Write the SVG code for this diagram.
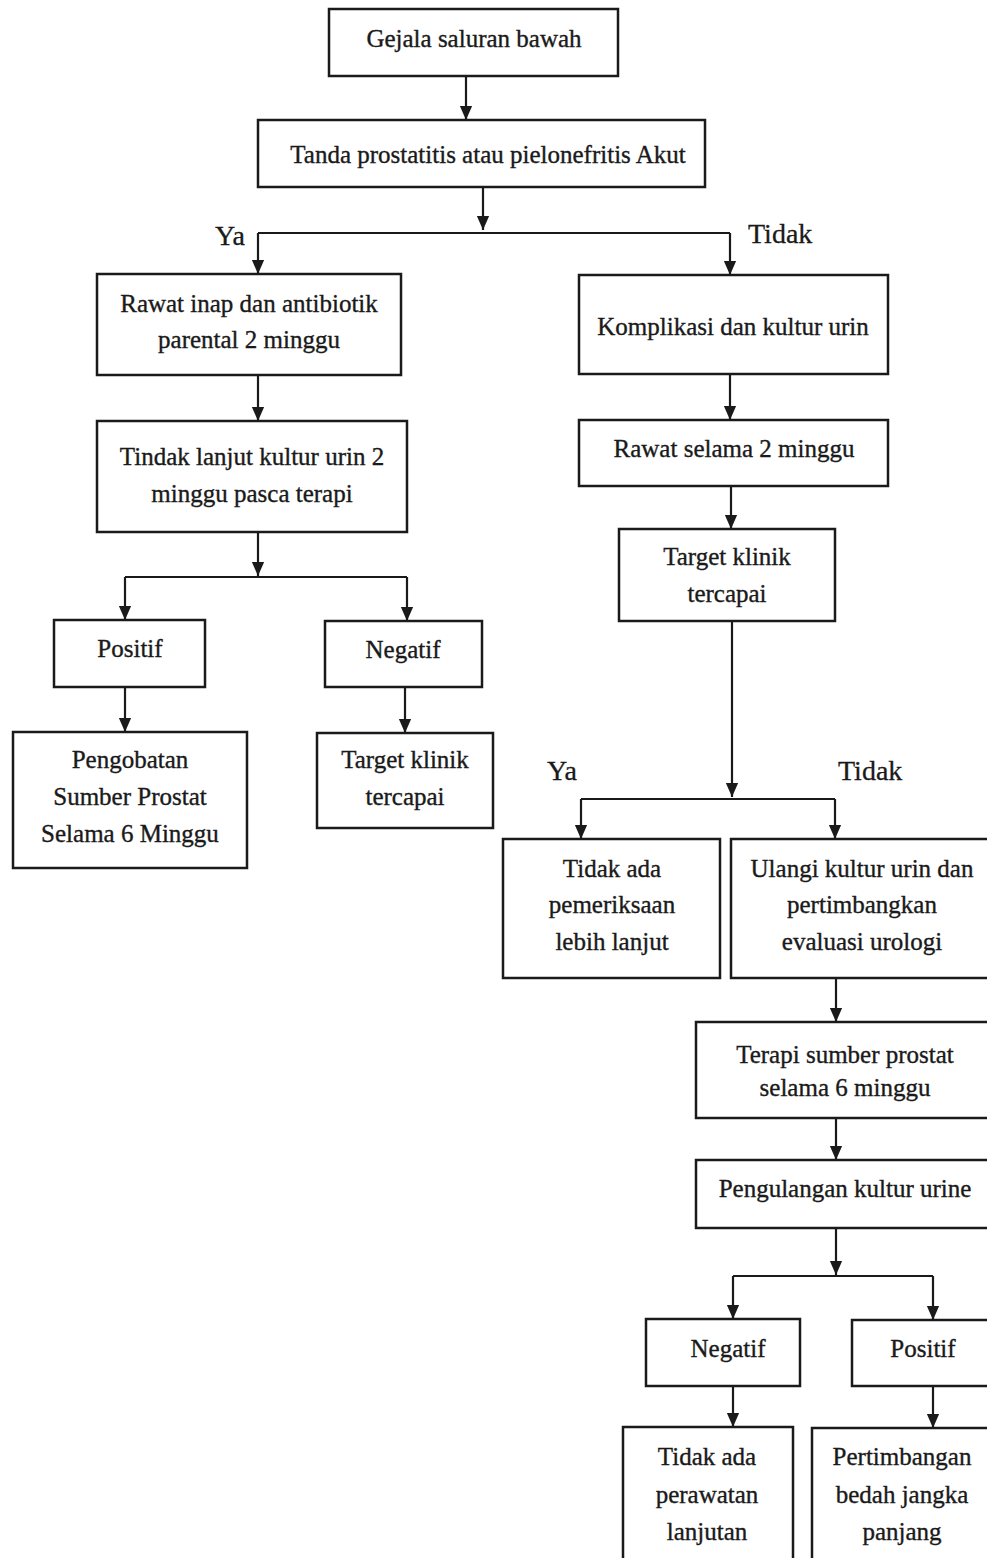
<svg xmlns="http://www.w3.org/2000/svg" width="987" height="1558" viewBox="0 0 987 1558">
<style>
.box{fill:#fff;stroke:#1a1a1a;stroke-width:2.5}
.t{font-family:"Liberation Serif","Times New Roman",serif;font-size:25px;fill:#1a1a1a;stroke:#1a1a1a;stroke-width:0.35;text-anchor:middle}
.lbl{font-family:"Liberation Serif","Times New Roman",serif;font-size:28px;fill:#1a1a1a;stroke:#1a1a1a;stroke-width:0.3}
.c{fill:none;stroke:#1a1a1a;stroke-width:2.2}
</style>
<defs>
<marker id="ah2" markerUnits="userSpaceOnUse" markerWidth="14" markerHeight="16" viewBox="0 0 16 14" refX="16" refY="7" orient="auto">
<path d="M0,0 L16,7 L0,14 Z" fill="#1a1a1a"/>
</marker>
</defs>
<rect width="987" height="1558" fill="#fff"/>
<g id="connectors">
<path class="c" marker-end="url(#ah2)" d="M466,76 V120"/>
<path class="c" marker-end="url(#ah2)" d="M483,187 V230"/>
<path class="c" d="M258,233 H730"/>
<path class="c" marker-end="url(#ah2)" d="M258,233 V274"/>
<path class="c" marker-end="url(#ah2)" d="M730,233 V275"/>
<path class="c" marker-end="url(#ah2)" d="M258,375 V421"/>
<path class="c" marker-end="url(#ah2)" d="M258,532 V576"/>
<path class="c" d="M125,577 H407"/>
<path class="c" marker-end="url(#ah2)" d="M125,577 V620"/>
<path class="c" marker-end="url(#ah2)" d="M407,577 V621"/>
<path class="c" marker-end="url(#ah2)" d="M125,687 V732"/>
<path class="c" marker-end="url(#ah2)" d="M405,687 V733"/>
<path class="c" marker-end="url(#ah2)" d="M730,374 V420"/>
<path class="c" marker-end="url(#ah2)" d="M731,486 V529"/>
<path class="c" marker-end="url(#ah2)" d="M732,621 V797"/>
<path class="c" d="M581,799 H835"/>
<path class="c" marker-end="url(#ah2)" d="M581,799 V839"/>
<path class="c" marker-end="url(#ah2)" d="M835,799 V839"/>
<path class="c" marker-end="url(#ah2)" d="M836,978 V1022"/>
<path class="c" marker-end="url(#ah2)" d="M836,1118 V1160"/>
<path class="c" marker-end="url(#ah2)" d="M836,1228 V1275"/>
<path class="c" d="M733,1276 H933"/>
<path class="c" marker-end="url(#ah2)" d="M733,1276 V1319"/>
<path class="c" marker-end="url(#ah2)" d="M933,1276 V1320"/>
<path class="c" marker-end="url(#ah2)" d="M733,1386 V1427"/>
<path class="c" marker-end="url(#ah2)" d="M933,1386 V1428"/>
<text class="lbl" x="215" y="245">Ya</text>
<text class="lbl" x="748" y="243">Tidak</text>
<text class="lbl" x="547" y="780">Ya</text>
<text class="lbl" x="838" y="780">Tidak</text>
</g>
<g id="n1"><rect class="box" x="329" y="9" width="289" height="67"/><text class="t" x="474" y="47">Gejala saluran bawah</text></g>
<g id="n2"><rect class="box" x="258" y="120" width="447" height="67"/><text class="t" x="488" y="163">Tanda prostatitis atau pielonefritis Akut</text></g>
<g id="n3"><rect class="box" x="97" y="274" width="304" height="101"/><text class="t" x="249" y="312">Rawat inap dan antibiotik</text><text class="t" x="249" y="348">parental 2 minggu</text></g>
<g id="n4"><rect class="box" x="579" y="275" width="309" height="99"/><text class="t" x="733" y="335">Komplikasi dan kultur urin</text></g>
<g id="n5"><rect class="box" x="97" y="421" width="310" height="111"/><text class="t" x="252" y="465">Tindak lanjut kultur urin 2</text><text class="t" x="252" y="502">minggu pasca terapi</text></g>
<g id="n6"><rect class="box" x="579" y="420" width="309" height="66"/><text class="t" x="734" y="457">Rawat selama 2 minggu</text></g>
<g id="n7"><rect class="box" x="619" y="529" width="216" height="92"/><text class="t" x="727" y="565">Target klinik</text><text class="t" x="727" y="602">tercapai</text></g>
<g id="n8"><rect class="box" x="54" y="620" width="151" height="67"/><text class="t" x="130" y="657">Positif</text></g>
<g id="n9"><rect class="box" x="325" y="621" width="157" height="66"/><text class="t" x="403" y="658">Negatif</text></g>
<g id="n10"><rect class="box" x="13" y="732" width="234" height="136"/><text class="t" x="130" y="768">Pengobatan</text><text class="t" x="130" y="805">Sumber Prostat</text><text class="t" x="130" y="842">Selama 6 Minggu</text></g>
<g id="n11"><rect class="box" x="317" y="733" width="176" height="95"/><text class="t" x="405" y="768">Target klinik</text><text class="t" x="405" y="805">tercapai</text></g>
<g id="n12"><rect class="box" x="503" y="839" width="217" height="139"/><text class="t" x="612" y="877">Tidak ada</text><text class="t" x="612" y="913">pemeriksaan</text><text class="t" x="612" y="950">lebih lanjut</text></g>
<g id="n13"><rect class="box" x="731" y="839" width="270" height="139"/><text class="t" x="862" y="877">Ulangi kultur urin dan</text><text class="t" x="862" y="913">pertimbangkan</text><text class="t" x="862" y="950">evaluasi urologi</text></g>
<g id="n14"><rect class="box" x="696" y="1022" width="305" height="96"/><text class="t" x="845" y="1063">Terapi sumber prostat</text><text class="t" x="845" y="1096">selama 6 minggu</text></g>
<g id="n15"><rect class="box" x="696" y="1160" width="305" height="68"/><text class="t" x="845" y="1197">Pengulangan kultur urine</text></g>
<g id="n16"><rect class="box" x="646" y="1319" width="154" height="67"/><text class="t" x="728" y="1357">Negatif</text></g>
<g id="n17"><rect class="box" x="852" y="1320" width="150" height="66"/><text class="t" x="923" y="1357">Positif</text></g>
<g id="n18"><rect class="box" x="623" y="1427" width="170" height="150"/><text class="t" x="707" y="1465">Tidak ada</text><text class="t" x="707" y="1503">perawatan</text><text class="t" x="707" y="1540">lanjutan</text></g>
<g id="n19"><rect class="box" x="812" y="1428" width="190" height="150"/><text class="t" x="902" y="1465">Pertimbangan</text><text class="t" x="902" y="1503">bedah jangka</text><text class="t" x="902" y="1540">panjang</text></g>
</svg>
